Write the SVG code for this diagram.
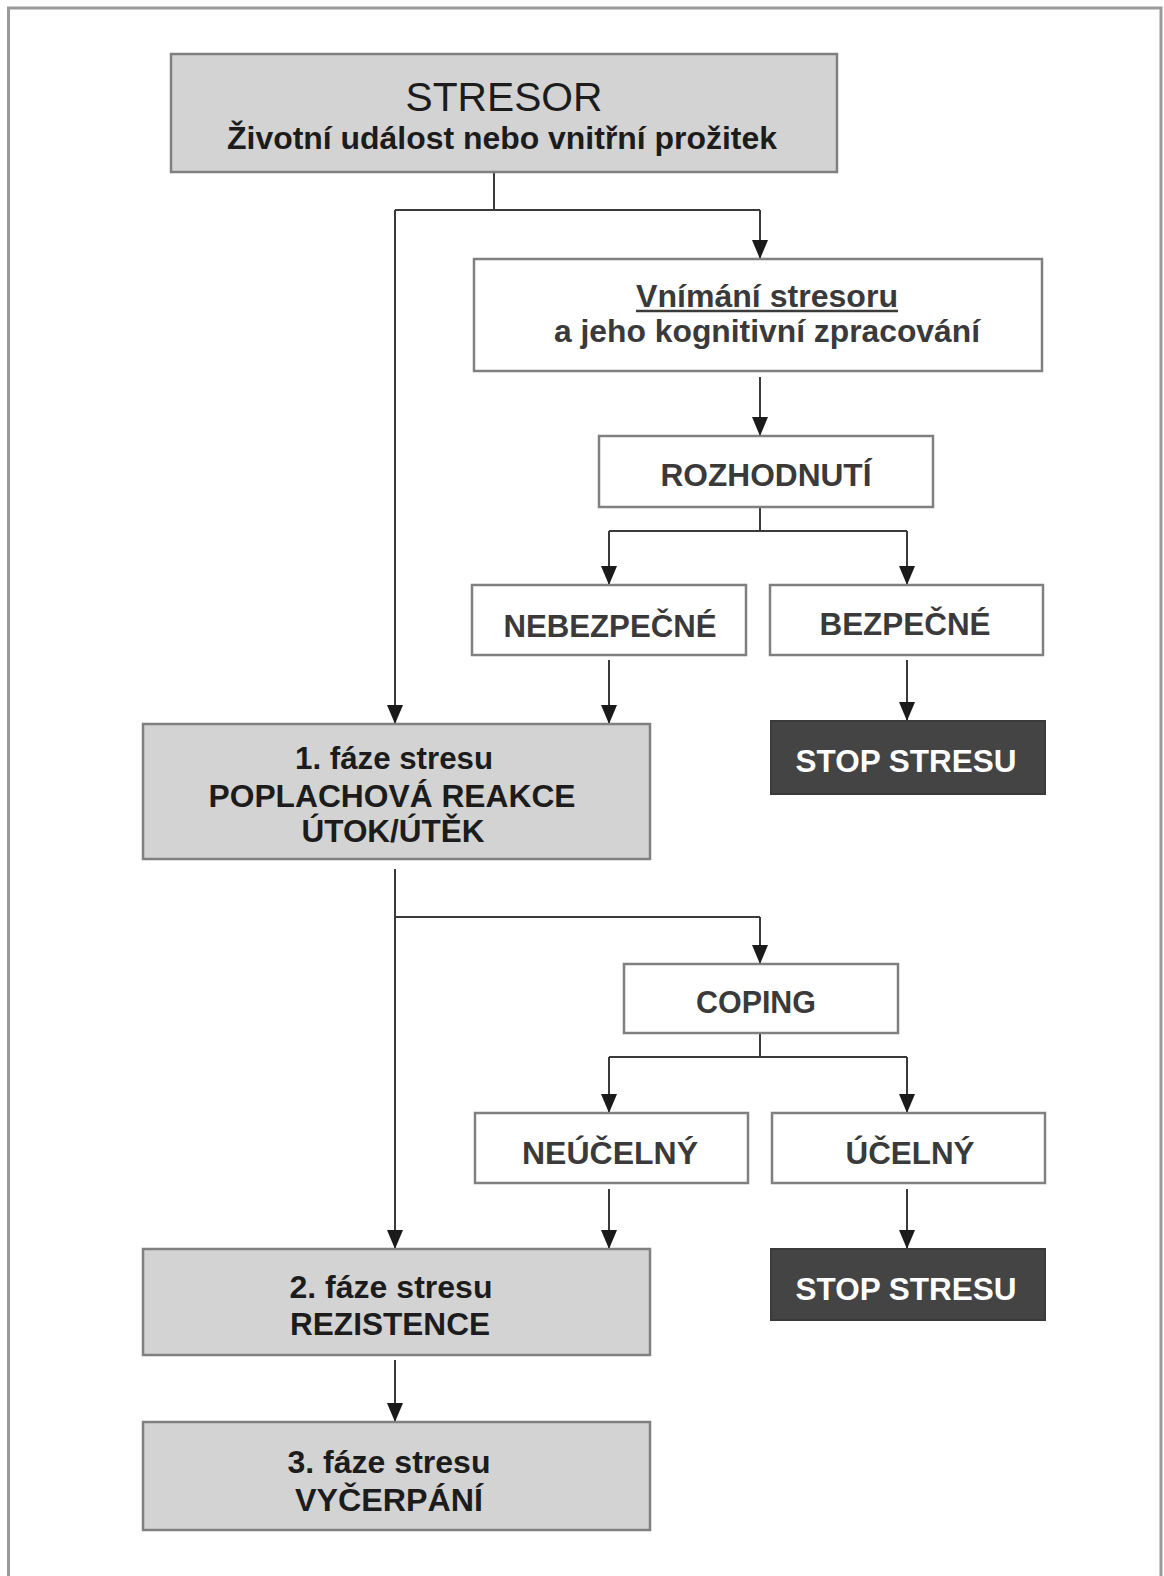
<svg xmlns="http://www.w3.org/2000/svg" width="1164" height="1576" viewBox="0 0 1164 1576">
<style>
.box{stroke:#808080;stroke-width:2.5}
.gray{fill:#d3d3d3}
.white{fill:#ffffff}
.dark{fill:#444444;stroke:#3a3a3a;stroke-width:2}
text{font-family:"Liberation Sans",Arial,sans-serif;font-weight:bold;text-anchor:middle}
.tg{fill:#1c1c1c;font-size:31px}
.tw{fill:#3a3a3a;font-size:32px}
.td{fill:#ffffff;font-size:31px}
.conn{fill:none;stroke:#3a3a3a;stroke-width:2}
</style>
<defs>
<marker id="ah" viewBox="0 -9 20 18" refX="19" refY="0" markerWidth="20" markerHeight="18" markerUnits="userSpaceOnUse" orient="auto">
<path d="M0,-8 L19,0 L0,8 z" fill="#1a1a1a"/>
</marker>
</defs>
<rect x="0" y="0" width="1164" height="1576" fill="#ffffff"/>
<path d="M8.5,1580 L8.5,8 L1161,8 L1161,1580" fill="none" stroke="#9a9a9a" stroke-width="3"/>

<g id="connectors">
<path class="conn" d="M494,172 L494,210 M395,210 L760,210"/>
<path class="conn" d="M395,210 L395,724" marker-end="url(#ah)"/>
<path class="conn" d="M760,210 L760,259" marker-end="url(#ah)"/>
<path class="conn" d="M760,377 L760,436" marker-end="url(#ah)"/>
<path class="conn" d="M760,507 L760,531 M609,531 L907,531"/>
<path class="conn" d="M609,531 L609,585" marker-end="url(#ah)"/>
<path class="conn" d="M907,531 L907,585" marker-end="url(#ah)"/>
<path class="conn" d="M609,660 L609,724" marker-end="url(#ah)"/>
<path class="conn" d="M907,660 L907,721" marker-end="url(#ah)"/>
<path class="conn" d="M395,869 L395,1249" marker-end="url(#ah)"/>
<path class="conn" d="M395,917 L760,917"/>
<path class="conn" d="M760,917 L760,964" marker-end="url(#ah)"/>
<path class="conn" d="M760,1033 L760,1057 M609,1057 L907,1057"/>
<path class="conn" d="M609,1057 L609,1113" marker-end="url(#ah)"/>
<path class="conn" d="M907,1057 L907,1113" marker-end="url(#ah)"/>
<path class="conn" d="M609,1189 L609,1249" marker-end="url(#ah)"/>
<path class="conn" d="M907,1189 L907,1249" marker-end="url(#ah)"/>
<path class="conn" d="M395,1360 L395,1422" marker-end="url(#ah)"/>
</g>

<g id="stresor">
<rect class="box gray" x="171" y="54" width="666" height="118"/>
<text x="504" y="111" style="font-weight:normal;font-size:40px;fill:#1c1c1c" textLength="197" lengthAdjust="spacingAndGlyphs">STRESOR</text>
<text class="tg" x="502" y="149" textLength="550" lengthAdjust="spacingAndGlyphs">Životní událost nebo vnitřní prožitek</text>
</g>

<g id="vnimani">
<rect class="box white" x="474" y="259" width="568" height="112"/>
<text class="tw" x="767" y="307" textLength="262" lengthAdjust="spacingAndGlyphs">Vnímání stresoru</text>
<line x1="636" y1="311" x2="898" y2="311" stroke="#3a3a3a" stroke-width="2.5"/>
<text class="tw" x="767" y="342" textLength="426" lengthAdjust="spacingAndGlyphs">a jeho kognitivní zpracování</text>
</g>

<g id="rozhodnuti">
<rect class="box white" x="599" y="436" width="334" height="71"/>
<text class="tw" x="766" y="486" textLength="211" lengthAdjust="spacingAndGlyphs">ROZHODNUTÍ</text>
</g>

<g id="nebezpecne">
<rect class="box white" x="472" y="585" width="274" height="70"/>
<text class="tw" x="610" y="637" textLength="213" lengthAdjust="spacingAndGlyphs">NEBEZPEČNÉ</text>
</g>

<g id="bezpecne">
<rect class="box white" x="770" y="585" width="273" height="70"/>
<text class="tw" x="905" y="635" textLength="171" lengthAdjust="spacingAndGlyphs">BEZPEČNÉ</text>
</g>

<g id="stop1">
<rect class="dark" x="771" y="721" width="274" height="73"/>
<text class="td" x="906" y="772" textLength="221" lengthAdjust="spacingAndGlyphs">STOP STRESU</text>
</g>

<g id="faze1">
<rect class="box gray" x="143" y="724" width="507" height="135"/>
<text class="tg" x="394" y="769" textLength="198" lengthAdjust="spacingAndGlyphs">1. fáze stresu</text>
<text class="tg" x="392" y="807" textLength="367" lengthAdjust="spacingAndGlyphs">POPLACHOVÁ REAKCE</text>
<text class="tg" x="393" y="842" textLength="183" lengthAdjust="spacingAndGlyphs">ÚTOK/ÚTĚK</text>
</g>

<g id="coping">
<rect class="box white" x="624" y="964" width="274" height="69"/>
<text class="tw" x="756" y="1013" textLength="120" lengthAdjust="spacingAndGlyphs">COPING</text>
</g>

<g id="neucelny">
<rect class="box white" x="475" y="1113" width="273" height="70"/>
<text class="tw" x="610" y="1164" textLength="176" lengthAdjust="spacingAndGlyphs">NEÚČELNÝ</text>
</g>

<g id="ucelny">
<rect class="box white" x="772" y="1113" width="273" height="70"/>
<text class="tw" x="910" y="1164" textLength="129" lengthAdjust="spacingAndGlyphs">ÚČELNÝ</text>
</g>

<g id="stop2">
<rect class="dark" x="771" y="1249" width="274" height="71"/>
<text class="td" x="906" y="1300" textLength="221" lengthAdjust="spacingAndGlyphs">STOP STRESU</text>
</g>

<g id="faze2">
<rect class="box gray" x="143" y="1249" width="507" height="106"/>
<text class="tg" x="391" y="1298" textLength="203" lengthAdjust="spacingAndGlyphs">2. fáze stresu</text>
<text class="tg" x="390" y="1335" textLength="200" lengthAdjust="spacingAndGlyphs">REZISTENCE</text>
</g>

<g id="faze3">
<rect class="box gray" x="143" y="1422" width="507" height="108"/>
<text class="tg" x="389" y="1473" textLength="203" lengthAdjust="spacingAndGlyphs">3. fáze stresu</text>
<text class="tg" x="389" y="1511" textLength="188" lengthAdjust="spacingAndGlyphs">VYČERPÁNÍ</text>
</g>
</svg>
